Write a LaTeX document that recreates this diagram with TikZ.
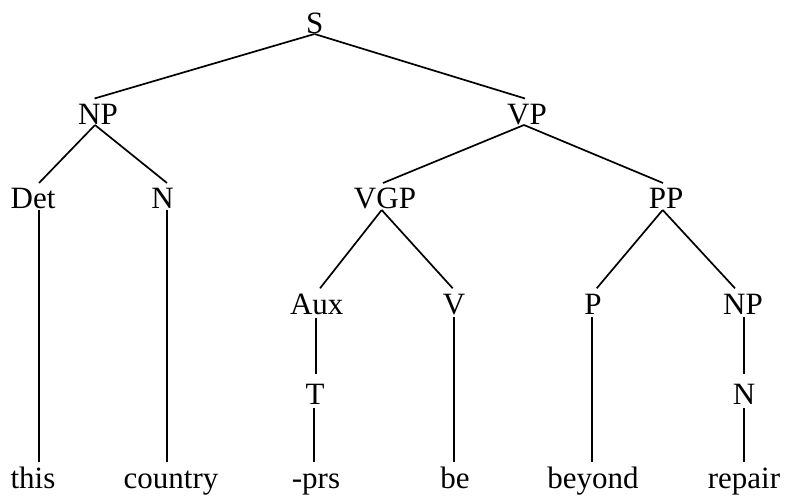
\documentclass[tikz,border=0pt]{standalone}
\usepackage{fontspec}
\setmainfont{Liberation Serif}
\begin{document}
\begin{tikzpicture}[x=1pt,y=-1pt,
  lab/.style={anchor=base,inner sep=0pt,font=\fontsize{31}{36}\selectfont},
  edge/.style={line width=1.7pt,line cap=butt}]
\useasboundingbox (0,0) rectangle (786,495);
% labels
\node[lab] (S)   at (314.7,33.5) {S};
\node[lab] (NP)  at (98,124)  {NP};
\node[lab] (VP)  at (527,124) {VP};
\node[lab] (Det) at (33,208)  {Det};
\node[lab] (N)   at (162.5,208) {N};
\node[lab] (VGP) at (385,208) {VGP};
\node[lab] (PP)  at (666,208) {PP};
\node[lab] (Aux) at (316.7,314) {Aux};
\node[lab] (V)   at (454,314) {V};
\node[lab] (P)   at (593,314) {P};
\node[lab] (NPb) at (743,314) {NP};
\node[lab] (T)   at (315,404) {T};
\node[lab] (Nb)  at (744,404) {N};
\node[lab] (this)    at (33,488)  {this};
\node[lab] (country) at (171,488) {country};
\node[lab] (prs)     at (316,488) {-prs};
\node[lab] (be)      at (455,488) {be};
\node[lab] (beyond)  at (593,488) {beyond};
\node[lab] (repair)  at (744,488) {repair};
% attachment points
\coordinate (S-dn)   at (314.5,34);
\coordinate (NP-up)  at (94.5,98.5);  \coordinate (NP-dn)  at (95,125);
\coordinate (VP-up)  at (525,98.5);   \coordinate (VP-dn)  at (524,125);
\coordinate (Det-up) at (39,183);     \coordinate (Det-dn) at (39,209.5);
\coordinate (N-up)   at (167,183);    \coordinate (N-dn)   at (167,209.5);
\coordinate (VGP-up) at (383,183);    \coordinate (VGP-dn) at (381.7,210);
\coordinate (PP-up)  at (663,183);    \coordinate (PP-dn)  at (662.7,210);
\coordinate (Aux-up) at (320,288.3);  \coordinate (Aux-dn) at (316,317.5);
\coordinate (V-up)   at (452.7,288.3);\coordinate (V-dn)   at (454.3,317);
\coordinate (P-up)   at (596.7,288.3);\coordinate (P-dn)   at (592.3,317);
\coordinate (NPb-up) at (735,288.3);  \coordinate (NPb-dn) at (744,317);
\coordinate (T-up)   at (316,374.3);  \coordinate (T-dn)   at (314.3,408.3);
\coordinate (Nb-up)  at (744,374.3);  \coordinate (Nb-dn)  at (744,408.3);
\coordinate (this-up)    at (39,461.7);
\coordinate (country-up) at (167,461.7);
\coordinate (prs-up)     at (314.3,461.7);
\coordinate (be-up)      at (454.3,461.7);
\coordinate (beyond-up)  at (592.3,461.7);
\coordinate (repair-up)  at (744,461.7);
% edges
\draw[edge] (S-dn) -- (NP-up);
\draw[edge] (S-dn) -- (VP-up);
\draw[edge] (NP-dn) -- (Det-up);
\draw[edge] (NP-dn) -- (N-up);
\draw[edge] (VP-dn) -- (VGP-up);
\draw[edge] (VP-dn) -- (PP-up);
\draw[edge] (VGP-dn) -- (Aux-up);
\draw[edge] (VGP-dn) -- (V-up);
\draw[edge] (PP-dn) -- (P-up);
\draw[edge] (PP-dn) -- (NPb-up);
\draw[edge] (Det-dn) -- (this-up);
\draw[edge] (N-dn) -- (country-up);
\draw[edge] (Aux-dn) -- (T-up);
\draw[edge] (T-dn) -- (prs-up);
\draw[edge] (V-dn) -- (be-up);
\draw[edge] (P-dn) -- (beyond-up);
\draw[edge] (NPb-dn) -- (Nb-up);
\draw[edge] (Nb-dn) -- (repair-up);
\end{tikzpicture}
\end{document}
